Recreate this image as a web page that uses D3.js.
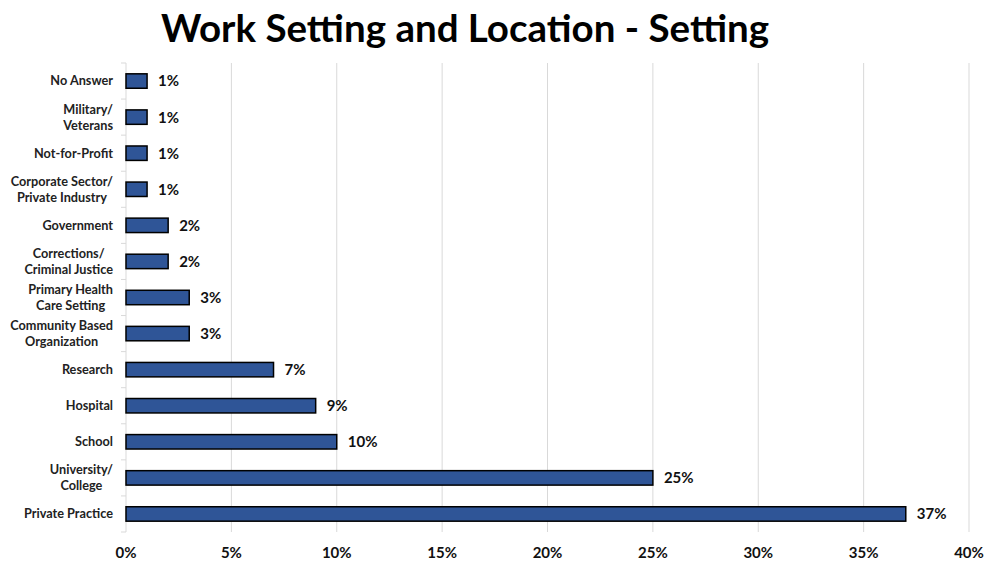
<!DOCTYPE html>
<html><head><meta charset="utf-8">
<script src="https://cdn.jsdelivr.net/npm/d3@7"></script>
<style>body{margin:0;background:#fff;} svg{display:block;}</style>
</head><body>
<svg id="chart" width="987" height="563"></svg>
<script>
const categories = [
  "No Answer", "Military/\nVeterans", "Not-for-Profit", "Corporate Sector/\nPrivate Industry",
  "Government", "Corrections/\nCriminal Justice", "Primary Health\nCare Setting",
  "Community Based\nOrganization", "Research", "Hospital", "School",
  "University/\nCollege", "Private Practice"
];
const values = [1, 1, 1, 1, 2, 2, 3, 3, 7, 9, 10, 25, 37];
const xTicks = [0, 5, 10, 15, 20, 25, 30, 35, 40];
const title = "Work Setting and Location - Setting";

const svg = d3.select("#chart");
const font = "Lato, 'Open Sans', sans-serif";
const m = {left: 126, right: 18, top: 63, bottom: 31};
const W = 987, H = 563;

const x = d3.scaleLinear().domain([0, 40]).range([m.left, 969]);
const y = d3.scaleBand().domain(categories).range([m.top, H - m.bottom]).paddingInner(0.6).paddingOuter(0.3);

// gridlines
svg.append("g").selectAll("line").data(xTicks.filter(d => d > 0)).join("line")
  .attr("x1", d => x(d)).attr("x2", d => x(d))
  .attr("y1", m.top).attr("y2", H - m.bottom)
  .attr("stroke", "#d9d9d9").attr("stroke-width", 1);

// y axis line
const yb = d3.scaleBand().domain(categories).range([m.top, H - m.bottom]);
svg.append("line").attr("x1", m.left).attr("x2", m.left).attr("y1", m.top).attr("y2", H - m.bottom)
  .attr("stroke", "#d9d9d9");
const bounds = categories.map(c => yb(c)).concat([H - m.bottom]);
svg.append("g").selectAll("line").data(bounds).join("line")
  .attr("x1", m.left - 5).attr("x2", m.left).attr("y1", d => d).attr("y2", d => d)
  .attr("stroke", "#d9d9d9");

// bars
svg.append("g").selectAll("rect").data(values).join("rect")
  .attr("x", x(0)).attr("y", (d, i) => y(categories[i]))
  .attr("width", d => x(d) - x(0)).attr("height", y.bandwidth())
  .attr("fill", "#2F5597").attr("stroke", "#000").attr("stroke-width", 1.5);

// value labels
svg.append("g").selectAll("text").data(values).join("text")
  .attr("x", d => x(d) + 11).attr("y", (d, i) => y(categories[i]) + y.bandwidth() / 2)
  .attr("dy", "0.36em").attr("font-family", font).attr("font-weight", "bold")
  .attr("font-size", 15).attr("fill", "#111").text(d => d + "%");

// category labels (multi-line blocks right-aligned, lines centered within block)
const labG = svg.append("g");
categories.forEach(c => {
  const lines = c.split("\n");
  const cy = yb(c) + yb.bandwidth() / 2;
  const texts = lines.map((l, i) => labG.append("text")
    .attr("font-family", font).attr("font-weight", "bold")
    .attr("font-size", 12.7).attr("fill", "#222")
    .attr("y", cy + (i - (lines.length - 1) / 2) * 16)
    .attr("dy", "0.35em").text(l));
  const maxW = d3.max(texts, t => t.node().getComputedTextLength());
  const cx = 113 - maxW / 2;
  texts.forEach(t => t.attr("x", cx).attr("text-anchor", "middle"));
});

// x tick labels
svg.append("g").selectAll("text").data(xTicks).join("text")
  .attr("x", d => x(d)).attr("y", 553).attr("dy", "0.35em").attr("text-anchor", "middle")
  .attr("font-family", font).attr("font-weight", "bold").attr("font-size", 15).attr("fill", "#111")
  .text(d => d + "%");

// title
svg.append("text").attr("x", 465).attr("y", 42).attr("text-anchor", "middle")
  .attr("font-family", font).attr("font-weight", "bold").attr("font-size", 38.5).attr("fill", "#000")
  .text(title);
</script>
</body></html>
